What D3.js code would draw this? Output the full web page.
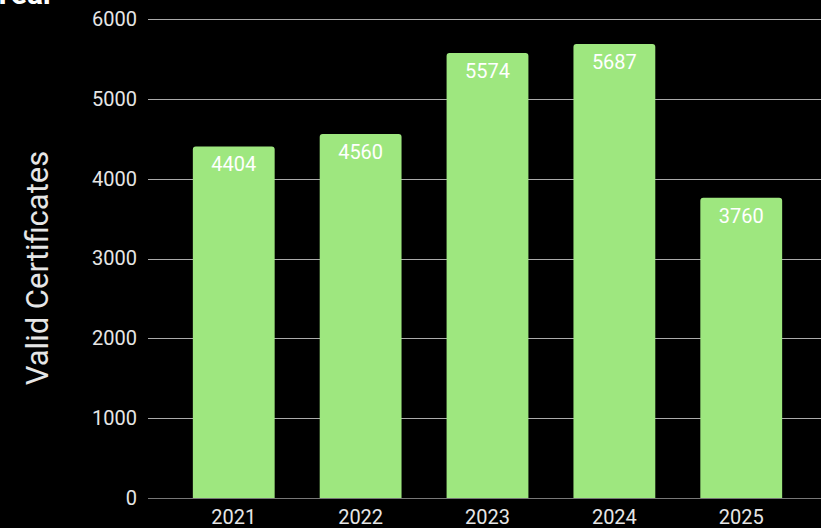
<!DOCTYPE html>
<html>
<head>
<meta charset="utf-8">
<script src="https://cdn.jsdelivr.net/npm/d3@7"></script>
<style>
  body { margin: 0; background: #000; }
  svg { display: block; font-family: Roboto, sans-serif; }
</style>
</head>
<body>
<svg id="chart"></svg>
<script>
const years = ["2021", "2022", "2023", "2024", "2025"];
const certificates = [4404, 4560, 5574, 5687, 3760];
const yTicks = [0, 1000, 2000, 3000, 4000, 5000, 6000];

const width = 821, height = 528;
const margin = { top: 19, right: 0, bottom: 30, left: 148 };

const svg = d3.select("#chart")
    .attr("width", width)
    .attr("height", height);

svg.append("rect")
    .attr("width", width)
    .attr("height", height)
    .attr("fill", "#000");

// title cut off at the top edge, as in the reference
svg.append("text")
    .attr("x", 54)
    .attr("y", 4)
    .attr("text-anchor", "end")
    .attr("fill", "#fff")
    .attr("font-weight", "bold")
    .attr("font-size", 30)
    .text("Year");

const x = d3.scaleBand()
    .domain(years)
    .range([170, 805])
    .paddingInner(0.355)
    .paddingOuter(0.18);

const y = d3.scaleLinear()
    .domain([0, 6000])
    .range([height - margin.bottom, margin.top]);

// grid lines
svg.append("g")
    .selectAll("line")
    .data(yTicks)
    .join("line")
    .attr("x1", margin.left)
    .attr("x2", width)
    .attr("y1", d => Math.round(y(d)) + 0.5)
    .attr("y2", d => Math.round(y(d)) + 0.5)
    .attr("stroke", d => d === 0 ? "#777" : "#aaa")
    .attr("stroke-width", 1);

// y axis labels
const yAxis = svg.append("g")
    .attr("transform", `translate(${margin.left - 11}, 0)`)
    .call(d3.axisLeft(y).tickValues(yTicks).tickSize(0).tickPadding(0).tickFormat(d3.format("d")));
yAxis.select(".domain").remove();
yAxis.selectAll("text")
    .attr("fill", "#e6e6e6")
    .attr("font-size", 20)
    .attr("font-family", "Roboto, sans-serif");

// x axis labels
const xAxis = svg.append("g")
    .attr("transform", `translate(0, ${height - margin.bottom})`)
    .call(d3.axisBottom(x).tickSize(0).tickPadding(12));
xAxis.select(".domain").remove();
xAxis.selectAll("text")
    .attr("fill", "#e6e6e6")
    .attr("font-size", 20)
    .attr("font-family", "Roboto, sans-serif");

// bars
svg.append("g")
    .selectAll("path")
    .data(years)
    .join("path")
    .attr("fill", "#9ee77f")
    .attr("d", (d, i) => {
        const x0 = x(d), w = x.bandwidth();
        const y0 = y(certificates[i]), y1 = y(0), r = 3;
        return `M${x0},${y1} L${x0},${y0 + r} Q${x0},${y0} ${x0 + r},${y0}
                L${x0 + w - r},${y0} Q${x0 + w},${y0} ${x0 + w},${y0 + r} L${x0 + w},${y1} Z`;
    });

// value labels
svg.append("g")
    .selectAll("text")
    .data(years)
    .join("text")
    .attr("x", d => x(d) + x.bandwidth() / 2)
    .attr("y", (d, i) => y(certificates[i]) + 25)
    .attr("text-anchor", "middle")
    .attr("fill", "#fff")
    .attr("font-size", 20)
    .text((d, i) => certificates[i]);

// axis title
svg.append("text")
    .attr("transform", "translate(48, 268) rotate(-90)")
    .attr("text-anchor", "middle")
    .attr("fill", "#e6e6e6")
    .attr("font-size", 31)
    .text("Valid Certificates");
</script>
</body>
</html>
